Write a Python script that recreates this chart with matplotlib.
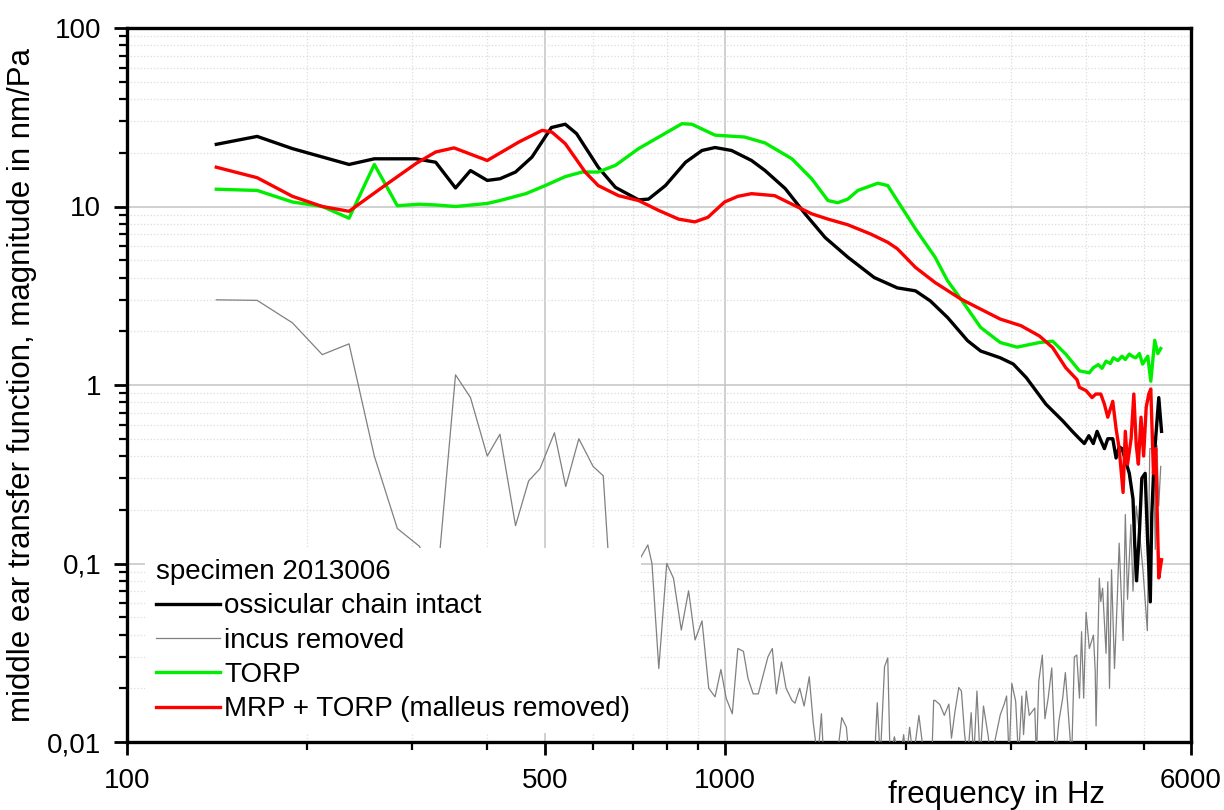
import matplotlib
matplotlib.use("Agg")
import matplotlib.pyplot as plt
from matplotlib.ticker import FixedLocator, FixedFormatter, NullFormatter

plt.rcParams['font.family'] = ['Liberation Sans', 'DejaVu Sans']

# ossicular chain intact
f_intact = [141, 165, 189, 235, 259, 304, 328, 354, 375, 400, 420, 446, 475, 512, 540, 564,
            613, 655, 716, 744, 794, 858, 914, 961, 1024, 1106, 1165, 1259, 1359, 1468, 1602,
            1773, 1938, 2078, 2200, 2351, 2540, 2671, 2880, 3028, 3183, 3434, 3662, 3800, 3906,
            3980, 4050, 4120, 4180, 4240, 4300, 4356, 4440, 4497, 4550, 4603, 4660, 4732, 4800,
            4832, 4866, 4920, 4965, 5030, 5075, 5130, 5160, 5210, 5300, 5357]
v_intact = [22.3, 24.7, 21.1, 17.2, 18.5, 18.5, 17.7, 12.7, 15.9, 14.0, 14.3, 15.6, 18.9, 27.7, 28.9, 25.6,
            16.6, 12.8, 10.9, 11.0, 13.1, 17.7, 20.6, 21.4, 20.6, 18.1, 15.9, 12.6, 9.1, 6.7, 5.2,
            4.0, 3.5, 3.37, 2.96, 2.39, 1.77, 1.55, 1.42, 1.31, 1.10, 0.78, 0.63, 0.55, 0.50,
            0.47, 0.52, 0.47, 0.55, 0.49, 0.44, 0.50, 0.50, 0.39, 0.45, 0.44, 0.38, 0.32, 0.23,
            0.127, 0.08, 0.15, 0.30, 0.32, 0.14, 0.061, 0.19, 0.40, 0.85, 0.55]

# incus removed
f_incus = [141, 165, 189, 212, 235, 259, 283, 308, 330, 354, 375, 400, 420, 446, 469, 490, 518,
           541, 569, 601, 625, 645, 700, 742, 754, 774, 798, 819, 844, 868, 890, 914, 938, 961,
           983, 1003, 1027, 1049, 1072, 1091, 1113, 1135, 1178, 1198, 1217, 1241, 1263, 1292,
           1307, 1331, 1354, 1381, 1402, 1427, 1447, 1460, 1536, 1565, 1593, 1610, 1775, 1794,
           1815, 1845, 1868, 1885, 1916, 1940, 1960, 1986, 2005, 2032, 2060, 2106, 2150, 2213,
           2229, 2241, 2283, 2322, 2363, 2387, 2418, 2455, 2480, 2511, 2540, 2575, 2600, 2633,
           2665, 2700, 2747, 2780, 2880, 2922, 2951, 2980, 3011, 3056, 3090, 3129, 3150, 3183,
           3220, 3289, 3310, 3340, 3386, 3420, 3463, 3511, 3560, 3609, 3662, 3700, 3751, 3790,
           3830, 3866, 3906, 3938, 3970, 4007, 4057, 4122, 4150, 4164, 4216, 4240, 4270, 4327,
           4356, 4385, 4419, 4470, 4516, 4551, 4620, 4660, 4700, 4760, 4800, 4860, 4930, 4990,
           5072, 5120, 5190, 5230, 5263, 5300, 5340]
v_incus = [3.0, 2.98, 2.23, 1.48, 1.70, 0.40, 0.157, 0.125, 0.08, 1.14, 0.85, 0.40, 0.53, 0.163,
           0.29, 0.34, 0.54, 0.27, 0.50, 0.35, 0.31, 0.06, 0.09, 0.127, 0.10, 0.0258, 0.10, 0.0827,
           0.0424, 0.0703, 0.0373, 0.0477, 0.020, 0.0179, 0.0255, 0.0176, 0.0144, 0.0334, 0.0322,
           0.0227, 0.0186, 0.0186, 0.030, 0.0334, 0.0186, 0.0281, 0.020, 0.0171, 0.0165, 0.020,
           0.0159, 0.0232, 0.0129, 0.008, 0.0144, 0.008, 0.008, 0.0137, 0.0121, 0.008, 0.008,
           0.0166, 0.008, 0.0264, 0.0296, 0.008, 0.0107, 0.009, 0.008, 0.011, 0.008, 0.0121,
           0.008, 0.0141, 0.008, 0.008, 0.0171, 0.0171, 0.0162, 0.0141, 0.0163, 0.0105, 0.0146,
           0.0202, 0.0193, 0.011, 0.008, 0.0146, 0.008, 0.0193, 0.008, 0.0159, 0.011, 0.008,
           0.0142, 0.0162, 0.0181, 0.008, 0.0213, 0.0169, 0.008, 0.0181, 0.011, 0.0193, 0.0141,
           0.0155, 0.008, 0.0219, 0.0307, 0.0135, 0.0176, 0.026, 0.008, 0.0131, 0.0176, 0.0245,
           0.0129, 0.008, 0.030, 0.0307, 0.0176, 0.0415, 0.0176, 0.0533, 0.0334, 0.0397, 0.025,
           0.0123, 0.0827, 0.0612, 0.0727, 0.0314, 0.079, 0.020, 0.0923, 0.0258, 0.0612, 0.130,
           0.037, 0.188, 0.063, 0.165, 0.07, 0.21, 0.14, 0.09, 0.042, 0.44, 0.44, 0.12, 0.46,
           0.21, 0.35]

# TORP
f_torp = [141, 165, 189, 212, 235, 259, 283, 308, 328, 354, 400, 420, 464, 500, 540, 576, 613,
          655, 716, 774, 846, 879, 961, 1077, 1165, 1292, 1394, 1484, 1541, 1602, 1665, 1798,
          1868, 1938, 2078, 2241, 2351, 2475, 2671, 2880, 3072, 3350, 3523, 3705, 3906, 4057,
          4120, 4200, 4260, 4327, 4400, 4450, 4530, 4600, 4660, 4732, 4800, 4850, 4920, 4980,
          5080, 5140, 5218, 5280, 5340]
v_torp = [12.5, 12.3, 10.6, 10.0, 8.6, 17.2, 10.1, 10.3, 10.2, 10.0, 10.4, 10.8, 11.8, 13.1, 14.7,
          15.6, 15.6, 17.0, 21.1, 24.5, 29.1, 28.9, 25.1, 24.5, 22.7, 18.5, 14.3, 10.8, 10.5, 11.0,
          12.3, 13.5, 13.1, 10.8, 7.5, 5.2, 3.84, 3.03, 2.10, 1.73, 1.63, 1.73, 1.76, 1.49, 1.20,
          1.17, 1.25, 1.30, 1.24, 1.36, 1.32, 1.42, 1.37, 1.45, 1.39, 1.49, 1.44, 1.42, 1.50, 1.31,
          1.45, 1.05, 1.78, 1.50, 1.60]

# MRP + TORP (malleus removed)
f_mrp = [141, 165, 189, 212, 235, 267, 304, 328, 352, 400, 452, 494, 513, 540, 583, 613, 663,
         716, 774, 835, 889, 935, 997, 1049, 1106, 1209, 1292, 1394, 1484, 1602, 1751, 1868,
         1938, 2078, 2241, 2475, 2671, 2880, 3118, 3350, 3523, 3705, 3870, 3906, 4007, 4100,
         4160, 4240, 4300, 4356, 4440, 4497, 4551, 4620, 4660, 4700, 4765, 4815, 4860, 4900,
         4950, 5000, 5050, 5100, 5140, 5193, 5238, 5300, 5357]
v_mrp = [16.6, 14.5, 11.4, 10.0, 9.4, 12.8, 17.4, 20.2, 21.3, 18.1, 23.0, 26.7, 26.1, 22.5, 15.6,
         13.1, 11.5, 10.8, 9.5, 8.5, 8.2, 8.7, 10.6, 11.4, 11.8, 11.5, 10.3, 9.1, 8.5, 7.9, 7.0,
         6.3, 5.8, 4.56, 3.75, 3.03, 2.66, 2.34, 2.15, 1.88, 1.62, 1.25, 1.07, 0.97, 0.93, 0.85,
         0.89, 0.89, 0.78, 0.66, 0.81, 0.57, 0.44, 0.25, 0.55, 0.36, 0.50, 0.89, 0.46, 0.36,
         0.66, 0.40, 0.75, 0.89, 0.95, 0.32, 0.44, 0.083, 0.105]

fig = plt.figure(figsize=(12.24, 8.1), dpi=100)
ax = fig.add_axes([127 / 1224, 1 - 742 / 810, 1064 / 1224, 714 / 810])

ax.plot(f_intact, v_intact, color='black', lw=2.4, label='ossicular chain intact', zorder=4)
ax.plot(f_incus, v_incus, color='#808080', lw=0.9, label='incus removed', zorder=3)
ax.plot(f_torp, v_torp, color='#00ee00', lw=2.4, label='TORP', zorder=4)
ax.plot(f_mrp, v_mrp, color='#ff0000', lw=2.4, label='MRP + TORP (malleus removed)', zorder=5)

ax.set_xscale('log')
ax.set_yscale('log')
ax.set_xlim(100, 6000)
ax.set_ylim(0.01, 100)

ax.xaxis.set_major_locator(FixedLocator([100, 500, 1000, 6000]))
ax.xaxis.set_major_formatter(FixedFormatter(['100', '500', '1000', '6000']))
ax.xaxis.set_minor_locator(FixedLocator([200, 300, 400, 600, 700, 800, 900, 2000, 3000, 4000, 5000]))
ax.xaxis.set_minor_formatter(NullFormatter())
ax.yaxis.set_major_locator(FixedLocator([0.01, 0.1, 1, 10, 100]))
ax.yaxis.set_major_formatter(FixedFormatter(['0,01', '0,1', '1', '10', '100']))
yminor = [m * 10.0 ** e for e in range(-2, 2) for m in range(2, 10)]
ax.yaxis.set_minor_locator(FixedLocator(yminor))
ax.yaxis.set_minor_formatter(NullFormatter())

ax.grid(True, which='major', color='#c8c8c8', lw=1.2, ls='-', zorder=0)
ax.grid(True, which='minor', color='#dcdcdc', lw=0.9, ls=':', zorder=0)
# only 500 and 1000 get vertical major grid lines
for gl, val in zip(ax.xaxis.get_gridlines(), [100, 500, 1000, 6000]):
    if val not in (500, 1000):
        gl.set_visible(False)

ax.tick_params(which='major', direction='out', length=9.5, width=2, labelsize=20, pad=9,
               top=False, right=False)
ax.tick_params(which='minor', direction='out', length=6, width=1.6, top=False, right=False)
ax.tick_params(axis='x', which='major', pad=9)
for sp in ax.spines.values():
    sp.set_linewidth(2.4)

ax.set_ylabel('middle ear transfer function, magnitude in nm/Pa', fontsize=22.5, labelpad=7)
fig.text(1105 / 1224, 7 / 810, 'frequency in Hz', fontsize=22.5, ha='right', va='baseline')

leg = ax.legend(title='specimen 2013006', loc='lower left', bbox_to_anchor=(0.017, 0.012),
                borderaxespad=0, frameon=True, fancybox=False, edgecolor='none',
                facecolor='white', framealpha=1, fontsize=20, title_fontsize=20,
                handlelength=2.3, handletextpad=0.15, labelspacing=0.3, borderpad=0.4,
                alignment='left')
leg.set_zorder(10)

plt.savefig('out.png', dpi=100)
